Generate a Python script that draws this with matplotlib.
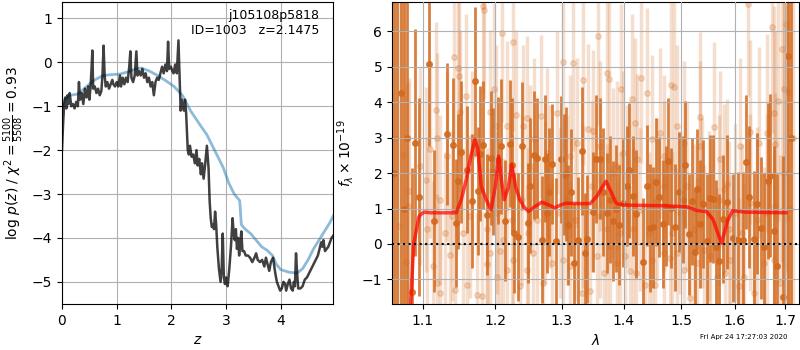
import numpy as np
import matplotlib
matplotlib.use("Agg")
import matplotlib.pyplot as plt
from matplotlib.ticker import NullLocator, FixedLocator, FixedFormatter

# p(z) panel
z_pz = [0.00, 0.02, 0.04, 0.06, 0.08, 0.10, 0.12, 0.14, 0.17, 0.20,
        0.23, 0.26, 0.29, 0.31, 0.33, 0.36, 0.39, 0.42, 0.45, 0.48,
        0.50, 0.52, 0.54, 0.555, 0.57, 0.60, 0.63, 0.66, 0.69, 0.72,
        0.74, 0.76, 0.78, 0.80, 0.83, 0.86, 0.89, 0.92, 0.94, 0.97,
        1.00, 1.03, 1.06, 1.08, 1.11, 1.14, 1.17, 1.20, 1.23, 1.25,
        1.27, 1.30, 1.33, 1.36, 1.38, 1.41, 1.44, 1.47, 1.50, 1.53,
        1.56, 1.59, 1.62, 1.65, 1.68, 1.71, 1.74, 1.77, 1.80, 1.83,
        1.86, 1.89, 1.92, 1.94, 1.96, 1.99, 2.02, 2.04, 2.07, 2.10,
        2.13, 2.15, 2.17, 2.19, 2.21, 2.23, 2.25, 2.27, 2.30, 2.32,
        2.34, 2.37, 2.40, 2.43, 2.46, 2.48, 2.51, 2.54, 2.56, 2.59,
        2.62, 2.65, 2.68, 2.70, 2.72, 2.74, 2.76, 2.78, 2.80, 2.82,
        2.84, 2.87, 2.90, 2.92, 2.94, 2.96, 2.98, 3.00, 3.03, 3.06,
        3.09, 3.12, 3.14, 3.16, 3.18, 3.20, 3.22, 3.24, 3.26, 3.28,
        3.30, 3.33, 3.36, 3.40, 3.44, 3.48, 3.52, 3.55, 3.58, 3.62,
        3.66, 3.70, 3.73, 3.76, 3.79, 3.82, 3.86, 3.90, 3.93, 3.96,
        3.99, 4.02, 4.05, 4.08, 4.10, 4.13, 4.16, 4.19, 4.22, 4.24,
        4.26, 4.28, 4.30, 4.32, 4.36, 4.40, 4.44, 4.48, 4.52, 4.56,
        4.60, 4.64, 4.68, 4.72, 4.74, 4.76, 4.78, 4.81, 4.84, 4.87,
        4.90, 4.93, 4.96]
logp_pz = [-2.00, -1.40, -0.95, -0.80, -1.05, -0.75, -0.95, -0.70, -1.00, -0.95,
           -1.05, -0.90, -1.00, -0.45, -0.85, -0.70, -0.95, -0.60, -0.80, -0.55,
           -0.85, -0.60, -0.15, 0.27, -0.60, -0.55, -0.70, -0.60, -0.75, -0.65,
           -0.30, 0.38, -0.30, -0.55, -0.45, -0.60, -0.50, -0.40, -0.50, -0.55,
           -0.45, -0.55, -0.30, -0.55, -0.35, -0.50, -0.35, -0.45, -0.10, 0.25,
           -0.35, -0.45, -0.30, 0.25, -0.30, -0.20, -0.30, -0.15, -0.35, -0.25,
           -0.45, -0.35, -0.55, -0.45, -0.75, -0.45, -0.35, -0.40, -0.25, -0.10,
           -0.25, -0.05, -0.20, 0.47, -0.15, -0.10, -0.20, -0.25, -0.05, -0.25,
           0.50, -0.30, -1.10, -0.85, -1.00, -1.10, -0.85, -1.15, -2.00, -2.10,
           -1.90, -2.15, -2.10, -2.30, -2.00, -2.35, -2.20, -2.55, -2.30, -2.65,
           -2.30, -1.90, -2.40, -3.15, -3.55, -3.75, -3.70, -3.80, -3.40, -3.70,
           -4.20, -4.70, -5.00, -4.70, -3.90, -4.90, -5.05, -4.90, -5.10, -4.70,
           -4.20, -3.55, -3.90, -4.05, -3.80, -4.25, -4.00, -4.40, -4.10, -3.85,
           -4.30, -4.30, -4.40, -4.40, -4.45, -4.55, -4.45, -4.35, -4.50, -4.55,
           -4.50, -4.65, -4.45, -4.60, -4.75, -4.55, -4.45, -4.80, -5.00, -5.10,
           -5.20, -5.15, -5.00, -5.05, -5.20, -5.05, -4.95, -5.15, -5.20, -5.00,
           -5.10, -4.35, -4.80, -5.15, -5.15, -5.10, -4.95, -4.90, -4.80, -4.70,
           -4.60, -4.50, -4.40, -4.20, -4.10, -4.20, -4.05, -4.30, -4.25, -4.20,
           -4.10, -4.00, -3.95]
z_smooth = [0.00, 0.05, 0.15, 0.30, 0.45, 0.60, 0.75, 0.90, 1.05, 1.20,
            1.35, 1.45, 1.60, 1.75, 1.90, 2.05, 2.20, 2.35, 2.50, 2.65,
            2.75, 2.85, 2.95, 3.05, 3.15, 3.25, 3.28, 3.35, 3.45, 3.55,
            3.65, 3.75, 3.85, 3.92, 4.00, 4.15, 4.30, 4.40, 4.50, 4.60,
            4.70, 4.80, 4.90, 4.96]
logp_smooth = [-1.05, -0.85, -0.75, -0.72, -0.55, -0.40, -0.30, -0.28, -0.27, -0.22,
               -0.15, -0.13, -0.20, -0.30, -0.42, -0.55, -0.75, -1.10, -1.38, -1.65,
               -1.90, -2.15, -2.40, -2.75, -3.00, -3.15, -3.70, -3.80, -3.90, -4.05,
               -4.20, -4.28, -4.40, -4.60, -4.72, -4.78, -4.80, -4.70, -4.50, -4.25,
               -4.05, -3.85, -3.65, -3.50]

# spectrum panel, binned points
wave_dark = [1.0630, 1.0665, 1.0713, 1.0755, 1.0790, 1.0864, 1.0898, 1.0951, 1.1076, 1.1150,
             1.1327, 1.1409, 1.1450, 1.1473, 1.1520, 1.1594, 1.1674, 1.1710, 1.1748, 1.1785,
             1.1828, 1.1888, 1.1944, 1.1962, 1.2042, 1.2084, 1.2136, 1.2208, 1.2241, 1.2280,
             1.2333, 1.2391, 1.2488, 1.2507, 1.2566, 1.2621, 1.2686, 1.2736, 1.2766, 1.2801,
             1.2846, 1.2907, 1.2994, 1.3030, 1.3060, 1.3103, 1.3149, 1.3191, 1.3254, 1.3318,
             1.3361, 1.3404, 1.3501, 1.3543, 1.3608, 1.3664, 1.3723, 1.3778, 1.3822, 1.3878,
             1.3922, 1.3988, 1.4050, 1.4095, 1.4168, 1.4219, 1.4327, 1.4396, 1.4448, 1.4507,
             1.4553, 1.4617, 1.4676, 1.4729, 1.4764, 1.4824, 1.4896, 1.4973, 1.5033, 1.5081,
             1.5141, 1.5196, 1.5263, 1.5300, 1.5349, 1.5410, 1.5478, 1.5540, 1.5596, 1.5647,
             1.5703, 1.5771, 1.5855, 1.5962, 1.6071, 1.6169, 1.6222, 1.6281, 1.6372, 1.6439,
             1.6519, 1.6579, 1.6645, 1.6692, 1.6780, 1.6833, 1.6955, 1.7058, 1.7120]
flux_dark = [2.00, -2.50, 4.27, 1.00, 3.00, -1.36, 2.86, 1.33, 5.08, 0.64,
             3.11, 2.79, 0.59, 1.77, 2.59, 2.10, 1.21, 4.59, 1.49, 2.55,
             2.79, 0.83, 2.43, 2.04, 2.36, 2.76, 0.66, 2.83, 2.23, 0.31,
             0.19, 2.76, 0.59, 1.65, 2.51, 2.42, 0.12, 2.41, 0.88, 1.47,
             2.25, 0.07, 2.39, 1.96, 1.98, 0.54, 1.46, -0.54, 0.10, 2.62,
             -0.25, 0.14, 0.91, 2.40, 2.41, 1.47, 0.88, 1.25, 0.65, 1.00,
             0.53, 1.15, 1.63, 2.08, 1.35, 0.85, -0.51, 1.65, 0.45, 0.47,
             1.75, 1.33, 0.57, 1.08, 2.33, 1.02, 0.47, 1.46, 1.25, 2.24,
             0.27, 1.20, -0.24, 1.54, 0.57, 1.13, 0.07, 1.29, 1.27, -0.10,
             -0.49, 0.70, 1.19, 0.17, 0.12, 0.12, 2.31, 1.33, 0.15, 1.14,
             0.45, -0.10, 1.77, 1.93, 0.36, -0.63, -1.51, 5.31, 3.00]
err_dark = [9.0, 10.0, 6.0, 8.0, 7.0, 3.5, 3.2, 2.8, 2.3, 2.0,
            2.0, 1.9, 1.8, 1.9, 2.0, 1.8, 1.9, 2.1, 1.8, 1.9,
            1.8, 1.7, 1.9, 1.8, 1.8, 1.9, 1.7, 1.8, 1.9, 1.7,
            1.8, 1.8, 1.7, 1.9, 1.8, 1.7, 1.8, 1.8, 1.7, 1.8,
            1.7, 1.8, 1.8, 1.7, 1.9, 1.7, 1.8, 1.7, 1.8, 1.8,
            1.7, 1.8, 1.7, 1.8, 1.7, 1.8, 1.7, 1.8, 1.7, 1.8,
            1.7, 1.8, 1.7, 1.9, 1.7, 1.8, 1.8, 1.7, 1.8, 1.7,
            1.8, 1.7, 1.8, 1.7, 1.8, 1.7, 1.8, 1.7, 1.8, 1.8,
            1.7, 1.8, 1.8, 1.7, 1.8, 1.8, 1.9, 1.8, 1.8, 1.9,
            1.9, 1.8, 1.9, 1.8, 1.9, 1.9, 1.9, 2.0, 1.9, 2.0,
            2.0, 2.1, 2.2, 2.3, 2.4, 2.6, 4.0, 9.0, 10.0]

# spectrum panel, unbinned points
wave_lite = [1.0640, 1.0690, 1.0740, 1.0780, 1.0812, 1.0825, 1.0960, 1.1040, 1.1049, 1.1093,
             1.1138, 1.1174, 1.1183, 1.1183, 1.1228, 1.1228, 1.1295, 1.1318, 1.1363, 1.1386,
             1.1418, 1.1432, 1.1478, 1.1483, 1.1501, 1.1547, 1.1580, 1.1594, 1.1641, 1.1665,
             1.1735, 1.1810, 1.1829, 1.1843, 1.1877, 1.1886, 1.1924, 1.1924, 1.1987, 1.2011,
             1.2021, 1.2021, 1.2069, 1.2098, 1.2117, 1.2166, 1.2166, 1.2239, 1.2258, 1.2263,
             1.2308, 1.2362, 1.2387, 1.2412, 1.2462, 1.2472, 1.2487, 1.2512, 1.2563, 1.2573,
             1.2613, 1.2679, 1.2715, 1.2740, 1.2765, 1.2816, 1.2842, 1.2920, 1.2972, 1.3025,
             1.3025, 1.3077, 1.3130, 1.3130, 1.3177, 1.3209, 1.3235, 1.3315, 1.3342, 1.3342,
             1.3422, 1.3449, 1.3476, 1.3503, 1.3558, 1.3585, 1.3612, 1.3612, 1.3667, 1.3722,
             1.3732, 1.3765, 1.3776, 1.3832, 1.3888, 1.3888, 1.3944, 1.3955, 1.3989, 1.4028,
             1.4056, 1.4112, 1.4135, 1.4168, 1.4191, 1.4214, 1.4225, 1.4282, 1.4305, 1.4369,
             1.4398, 1.4427, 1.4485, 1.4485, 1.4543, 1.4572, 1.4631, 1.4690, 1.4690, 1.4690,
             1.4796, 1.4814, 1.4838, 1.4873, 1.4927, 1.4927, 1.4975, 1.5047, 1.5047, 1.5108,
             1.5168, 1.5229, 1.5291, 1.5341, 1.5353, 1.5384, 1.5414, 1.5507, 1.5538, 1.5601,
             1.5664, 1.5695, 1.5727, 1.5803, 1.5821, 1.5847, 1.5884, 1.5916, 1.6013, 1.6078,
             1.6110, 1.6142, 1.6175, 1.6265, 1.6304, 1.6304, 1.6370, 1.6435, 1.6468, 1.6567,
             1.6634, 1.6634, 1.6734, 1.6767, 1.6767, 1.6801, 1.6801, 1.6848, 1.6902, 1.6935,
             1.6975, 1.6983, 1.7010, 1.7038, 1.7065, 1.7100, 1.7160]
flux_lite = [3.00, 0.50, 2.50, -0.50, 1.07, 1.49, 2.20, 1.82, 0.41, 2.67,
             -0.63, 3.77, 3.00, -1.10, -1.39, 1.25, 0.31, 2.48, -0.30, 0.78,
             5.29, -1.29, 4.98, 4.75, 3.73, 0.31, 4.18, -1.15, 0.78, 2.48,
             -1.43, -1.48, 6.73, 6.60, 0.41, -0.58, 3.74, -0.25, 4.39, 3.33,
             -0.92, 0.88, -0.21, 5.95, 0.12, 3.33, -0.73, 0.69, 5.69, -0.44,
             3.64, -1.20, 1.25, 3.33, -0.73, 3.57, 0.31, 2.20, -0.25, 2.95,
             0.69, 3.61, -1.10, 1.16, 2.58, 1.63, -0.54, 3.71, 0.88, 5.14,
             -0.44, 1.25, 2.48, -0.63, 5.12, 0.69, 2.86, -1.39, 4.62, 1.07,
             3.24, -1.34, 1.63, 3.19, -0.35, 5.86, 0.78, 2.76, -0.82, 0.41,
             4.82, 4.65, -0.07, 2.01, -0.54, 2.20, 0.31, 4.39, 2.58, -0.35,
             1.63, -0.77, 4.10, 0.41, 3.42, -0.82, 2.39, 0.97, 4.70, -1.15,
             4.25, 0.31, 2.95, -0.44, -1.15, 1.25, 3.14, -0.25, 1.63, 2.48,
             -0.40, 4.49, 0.31, 4.44, 3.33, -0.25, 0.88, -0.73, 2.86, 1.63,
             -1.53, 0.41, -0.54, 3.59, 2.76, 1.16, -0.16, 0.78, -0.35, 3.31,
             -0.92, 1.25, 2.39, 1.56, -0.82, 1.68, 0.41, -0.44, 0.88, -1.20,
             2.76, 0.31, -0.92, 6.77, 3.16, 1.16, -1.39, 0.69, 2.86, -0.54,
             0.88, 3.14, 6.14, 3.71, -0.44, 1.07, 2.81, 4.04, -1.10, 5.50,
             2.00, 4.37, 6.20, 0.74, 4.30, 1.00, 3.00]
err_lite = [8.0, 7.0, 6.0, 5.0, 3.5, 3.2, 2.8, 2.6, 2.6, 2.5,
            2.4, 2.5, 2.4, 2.5, 2.3, 2.4, 2.3, 2.4, 2.3, 2.4,
            2.5, 2.3, 2.5, 2.4, 2.3, 2.4, 2.3, 2.4, 2.3, 2.4,
            2.3, 2.4, 2.5, 2.5, 2.3, 2.4, 2.3, 2.4, 2.4, 2.3,
            2.4, 2.3, 2.4, 2.5, 2.3, 2.4, 2.3, 2.4, 2.5, 2.3,
            2.4, 2.3, 2.4, 2.3, 2.4, 2.3, 2.4, 2.3, 2.4, 2.3,
            2.4, 2.3, 2.4, 2.3, 2.4, 2.3, 2.4, 2.3, 2.4, 2.5,
            2.3, 2.4, 2.3, 2.4, 2.5, 2.3, 2.4, 2.3, 2.4, 2.3,
            2.4, 2.3, 2.4, 2.3, 2.4, 2.5, 2.3, 2.4, 2.3, 2.4,
            2.5, 2.4, 2.3, 2.4, 2.3, 2.4, 2.3, 2.4, 2.3, 2.4,
            2.3, 2.4, 2.4, 2.3, 2.4, 2.3, 2.4, 2.3, 2.4, 2.3,
            2.4, 2.3, 2.4, 2.3, 2.4, 2.3, 2.4, 2.3, 2.4, 2.3,
            2.4, 2.4, 2.3, 2.4, 2.3, 2.4, 2.3, 2.4, 2.3, 2.4,
            2.5, 2.4, 2.4, 2.4, 2.4, 2.4, 2.4, 2.4, 2.4, 2.4,
            2.5, 2.4, 2.5, 2.4, 2.5, 2.4, 2.5, 2.4, 2.5, 2.5,
            2.5, 2.5, 2.6, 2.6, 2.6, 2.5, 2.6, 2.6, 2.7, 2.7,
            2.8, 2.8, 3.0, 3.0, 3.0, 3.2, 3.2, 3.4, 3.6, 6.0,
            6.5, 5.0, 7.0, 6.0, 6.0, 8.0, 8.0]

# best-fit model
wave_model = [1.084, 1.088, 1.092, 1.095, 1.100, 1.103, 1.110, 1.145, 1.152, 1.159,
              1.165, 1.171, 1.175, 1.180, 1.187, 1.194, 1.200, 1.205, 1.209, 1.213,
              1.219, 1.224, 1.230, 1.236, 1.242, 1.249, 1.258, 1.269, 1.280, 1.289,
              1.298, 1.306, 1.325, 1.345, 1.356, 1.365, 1.371, 1.377, 1.388, 1.400,
              1.430, 1.467, 1.510, 1.528, 1.547, 1.559, 1.568, 1.575, 1.580, 1.586,
              1.596, 1.620, 1.660, 1.702]
flux_model = [-1.70, 0.00, 0.45, 0.78, 0.88, 0.90, 0.88, 0.88, 1.25, 1.82,
              2.45, 2.95, 2.70, 1.63, 1.25, 0.97, 1.60, 2.48, 1.80, 1.25,
              1.60, 2.25, 1.60, 1.25, 1.05, 0.92, 1.05, 1.18, 1.10, 1.02,
              1.10, 1.15, 1.14, 1.14, 1.35, 1.62, 1.77, 1.55, 1.14, 1.10,
              1.09, 1.08, 1.05, 0.95, 0.91, 0.69, 0.30, 0.02, 0.30, 0.64,
              0.94, 0.90, 0.89, 0.88]

orange = "#d2691e"

fig = plt.figure(figsize=(8, 3.5), dpi=100)
ax1 = fig.add_axes([0.0775, 0.132, 0.339, 0.863])
ax2 = fig.add_axes([0.49, 0.132, 0.509, 0.863])

# left panel
ax1.plot(z_smooth, logp_smooth, color="#1f77b4", alpha=0.5, lw=2)
ax1.plot(z_pz, logp_pz, color="k", alpha=0.75, lw=1.8)
ax1.set_xlim(0, 4.96)
ax1.set_ylim(-5.5, 1.38)
ax1.set_xticks([0, 1, 2, 3, 4])
ax1.set_yticks([-5, -4, -3, -2, -1, 0, 1])
ax1.grid(True)
ax1.set_xlabel(r"$z$")
ax1.set_ylabel(r"log $p(z)$ / $\chi^2=\frac{5100}{5508}=0.93$")
ax1.text(0.95, 0.975, "j105108p5818\nID=1003   z=2.1475", transform=ax1.transAxes,
         ha="right", va="top", fontsize=9)

# right panel
ax2.errorbar(wave_lite, flux_lite, yerr=err_lite, fmt="o", color=orange, alpha=0.22,
             ms=4, elinewidth=2.5, capsize=0, zorder=1)
ax2.errorbar(wave_dark, flux_dark, yerr=err_dark, fmt="o", color=orange, alpha=0.85,
             ms=4, elinewidth=2, capsize=0, zorder=1.2)
ax2.plot(wave_model, flux_model, color="red", alpha=0.7, lw=2.5, zorder=4)
ax2.axhline(0, color="k", ls=":", lw=1.5, zorder=5)
ax2.set_xscale("log")
ax2.set_xlim(1.06, 1.729)
ax2.set_ylim(-1.69, 6.84)
ticks = [1.1, 1.2, 1.3, 1.4, 1.5, 1.6, 1.7]
ax2.xaxis.set_major_locator(FixedLocator(ticks))
ax2.xaxis.set_major_formatter(FixedFormatter(["%.1f" % t for t in ticks]))
ax2.xaxis.set_minor_locator(NullLocator())
ax2.set_yticks([-1, 0, 1, 2, 3, 4, 5, 6])
ax2.set_axisbelow(False)
ax2.grid(True, zorder=3)
ax2.set_xlabel(r"$\lambda$")
ax2.set_ylabel(r"$f_\lambda\times10^{-19}$")

fig.text(0.985, 0.028, "Fri Apr 24 17:27:03 2020", ha="right", va="bottom", fontsize=5)

fig.savefig("out.png", dpi=100)
